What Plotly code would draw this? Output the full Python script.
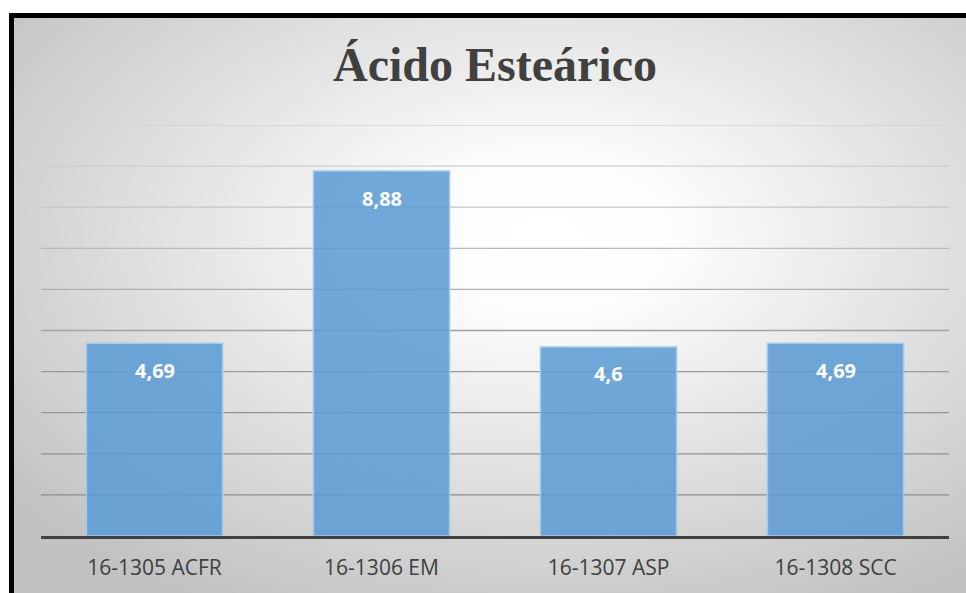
import base64
import plotly.graph_objects as go

# ---- data ----
categories = ["16-1305 ACFR", "16-1306 EM", "16-1307 ASP", "16-1308 SCC"]
values = [4.69, 8.88, 4.6, 4.69]
title_text = "Ácido Esteárico"
grid_levels = [1, 2, 3, 4, 5, 6, 7, 8, 9, 10]
grid_colors = ["#8c8c8c", "#909090", "#959595", "#9b9b9b", "#a4a4a4",
               "#afafaf", "#bababa", "#c6c6c6", "#cecece", "#d3d3d3"]

# ---- geometry (pixels) ----
FW, FH = 966, 593
L, R, T, B = 41, 17, 125, 57
PW, PH = FW - L - R, FH - T - B

def px(x):
    return (x - L) / PW

def py(y):
    return (FH - B - y) / PH

# radial gradient background as SVG
svg = (
    '<svg xmlns="http://www.w3.org/2000/svg" width="952" height="575" '
    'preserveAspectRatio="none" viewBox="0 0 952 575">'
    '<defs><radialGradient id="g" cx="0.56" cy="0.38" r="0.72">'
    '<stop offset="0" stop-color="#ffffff"/>'
    '<stop offset="0.18" stop-color="#fdfdfd"/>'
    '<stop offset="1" stop-color="#c2c2c2"/>'
    '</radialGradient></defs>'
    '<rect width="952" height="575" fill="url(#g)"/></svg>'
)
svg_uri = "data:image/svg+xml;base64," + base64.b64encode(svg.encode()).decode()

fig = go.Figure()
fig.add_trace(go.Bar(
    x=categories, y=values,
    marker=dict(color="rgba(91,155,213,0.86)",
                line=dict(color="#a6c8ea", width=1.5)),
    width=0.6, hoverinfo="skip",
))

annotations = []
for c, v in zip(categories, values):
    annotations.append(dict(
        x=c, y=v, xref="x", yref="y", text=str(v).replace(".", ","),
        showarrow=False, yanchor="middle", yshift=-27,
        font=dict(family="Open Sans", size=20, color="#ffffff", weight="bold"),
    ))

# title as an annotation so the serif font is applied directly
annotations.append(dict(
    text="<b>" + title_text + "</b>", xref="paper", yref="paper",
    x=0.5, y=py(64), xanchor="center", yanchor="middle", showarrow=False,
    font=dict(family="Liberation Serif, DejaVu Serif, serif", size=48,
              color="#404040"),
))

shapes = []
for lvl, col in zip(grid_levels, grid_colors):
    shapes.append(dict(type="line", xref="paper", yref="y", x0=0, x1=1,
                       y0=lvl, y1=lvl, line=dict(color=col, width=1.3),
                       layer="below"))
# outer black frame (extends beyond the visible page)
shapes.append(dict(type="rect", xref="paper", yref="paper",
                   x0=px(11.5), x1=px(1000), y0=py(15.5), y1=py(640),
                   line=dict(color="#000000", width=5), layer="above"))

fig.update_layout(
    width=FW, height=FH,
    margin=dict(l=L, r=R, t=T, b=B),
    paper_bgcolor="#ffffff",
    plot_bgcolor="rgba(0,0,0,0)",
    showlegend=False,
    bargap=0.4,
    xaxis=dict(showgrid=False, ticks="", showline=True, linecolor="#404040",
               linewidth=3, zeroline=False,
               tickfont=dict(family="Open Sans", size=21, color="#404040"),
               ticklabelstandoff=11, fixedrange=True),
    yaxis=dict(range=[0, 10], showgrid=False, zeroline=False,
               showticklabels=False, ticks="", fixedrange=True),
    images=[dict(source=svg_uri, xref="paper", yref="paper",
                 x=px(14), y=py(18), sizex=(FW - 14) / PW,
                 sizey=(FH - 18) / PH, sizing="stretch",
                 xanchor="left", yanchor="top", layer="below")],
    shapes=shapes,
    annotations=annotations,
)

fig.write_html("out.html")
